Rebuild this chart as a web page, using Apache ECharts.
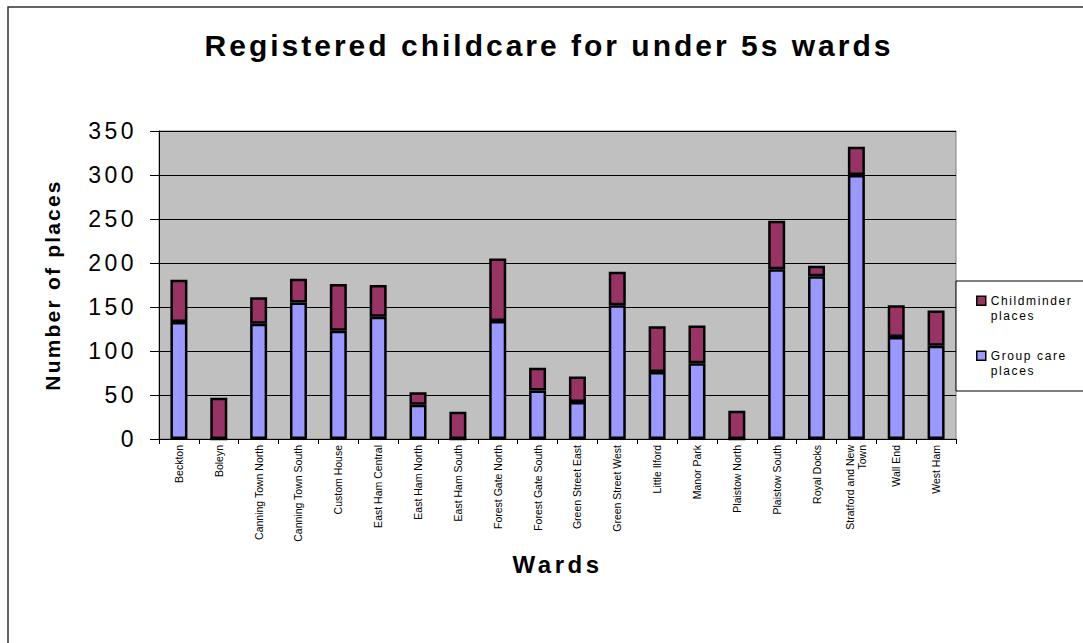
<!DOCTYPE html>
<html>
<head>
<meta charset="utf-8">
<script src="https://cdn.jsdelivr.net/npm/echarts@6/dist/echarts.min.js"></script>
<style>
  html, body { margin: 0; padding: 0; background: #fff; }
  #chart { width: 1083px; height: 643px; }
  #chart text[style*="30px"] { letter-spacing: 3px; }
  #chart text[style*="23px"] { letter-spacing: 3.5px; }
  #chart text[style*="21px"] { letter-spacing: 2.2px; }
  #chart text[style*="24px"] { letter-spacing: 3.5px; }
  #chart text[style*="12px"] { letter-spacing: 1.6px; }
</style>
</head>
<body>
<div id="chart"></div>
<script>
const categories = ['Beckton', 'Boleyn', 'Canning Town North', 'Canning Town South', 'Custom House',
  'East Ham Central', 'East Ham North', 'East Ham South', 'Forest Gate North', 'Forest Gate South',
  'Green Street East', 'Green Street West', 'Little Ilford', 'Manor Park', 'Plaistow North',
  'Plaistow South', 'Royal Docks', 'Stratford and New Town', 'Wall End', 'West Ham'];
const groupCarePlaces = [133, 0, 131, 155, 123, 139, 39, 0, 134, 55, 42, 152, 76, 86, 0, 193, 185, 300, 116, 106];
const childminderPlaces = [48, 47, 30, 27, 53, 36, 14, 31, 71, 26, 29, 38, 52, 43, 32, 55, 12, 32, 36, 40];
const yTicks = [0, 50, 100, 150, 200, 250, 300, 350];
const titleText = 'Registered childcare for under 5s wards';
const xName = 'Wards';
const yName = 'Number of places';
const seriesNames = ['Childminder places', 'Group care places'];

const FONT = "'Liberation Sans', Arial, sans-serif";
const chart = echarts.init(document.getElementById('chart'), null, { renderer: 'svg' });

chart.setOption({
  animation: false,
  backgroundColor: '#ffffff',
  graphic: [
    { type: 'rect', z: -10, shape: { x: 8, y: 7, width: 1300, height: 900 },
      style: { fill: 'none', stroke: '#333', lineWidth: 1.5 } },
    { type: 'text', x: 549, y: 45,
      style: { text: titleText, textAlign: 'center', textVerticalAlign: 'middle',
        fontFamily: FONT, fontWeight: 'bold', fontSize: 30, fill: '#000' } }
  ],
  legend: {
    orient: 'vertical',
    left: 956, top: 281,
    padding: [12, 70, 12, 20],
    itemGap: 24,
    itemWidth: 9, itemHeight: 24.5,
    icon: 'path://M0,0h9v9h-9z M0,24.5',
    backgroundColor: '#ffffff',
    borderColor: '#000', borderWidth: 1,
    data: seriesNames,
    formatter: n => n.replace(' places', '\nplaces'),
    itemStyle: { borderColor: '#000', borderWidth: 1.5 },
    textStyle: { fontFamily: FONT, fontSize: 12, lineHeight: 15.5, color: '#000' }
  },
  grid: {
    left: 159, right: 127, top: 131, bottom: 204,
    show: true, backgroundColor: '#C0C0C0', borderColor: '#808080', borderWidth: 1
  },
  xAxis: {
    type: 'category',
    data: categories,
    name: xName,
    nameLocation: 'middle',
    nameGap: 113,
    nameTextStyle: { fontFamily: FONT, fontWeight: 'bold', fontSize: 24, color: '#000' },
    axisLine: { lineStyle: { color: '#000', width: 1 } },
    axisTick: { show: true, length: 5, lineStyle: { color: '#000' } },
    axisLabel: {
      interval: 0, rotate: 90, margin: 6,
      fontFamily: FONT, fontSize: 10.5, color: '#000', lineHeight: 12,
      formatter: v => v === 'Stratford and New Town' ? 'Stratford and New\nTown' : v
    },
    splitLine: { show: false }
  },
  yAxis: {
    type: 'value',
    min: yTicks[0], max: yTicks[yTicks.length - 1], interval: 50,
    name: yName,
    nameLocation: 'middle',
    nameGap: 96,
    nameRotate: 90,
    nameTextStyle: { fontFamily: FONT, fontWeight: 'bold', fontSize: 21, color: '#000' },
    axisLine: { show: true, lineStyle: { color: '#000', width: 1 } },
    axisTick: { show: true, length: 9, lineStyle: { color: '#000' } },
    axisLabel: { margin: 22, fontFamily: FONT, fontSize: 23, color: '#000' },
    splitLine: { show: true, lineStyle: { color: '#000', width: 1 } }
  },
  series: [
    {
      name: seriesNames[1], type: 'bar', stack: 'total', barWidth: 17,
      data: groupCarePlaces,
      itemStyle: { color: '#9999FF', borderColor: '#000', borderWidth: 2.5 }
    },
    {
      name: seriesNames[0], type: 'bar', stack: 'total', barWidth: 17,
      data: childminderPlaces,
      itemStyle: { color: '#993366', borderColor: '#000', borderWidth: 2.5 }
    }
  ]
});
</script>
</body>
</html>
